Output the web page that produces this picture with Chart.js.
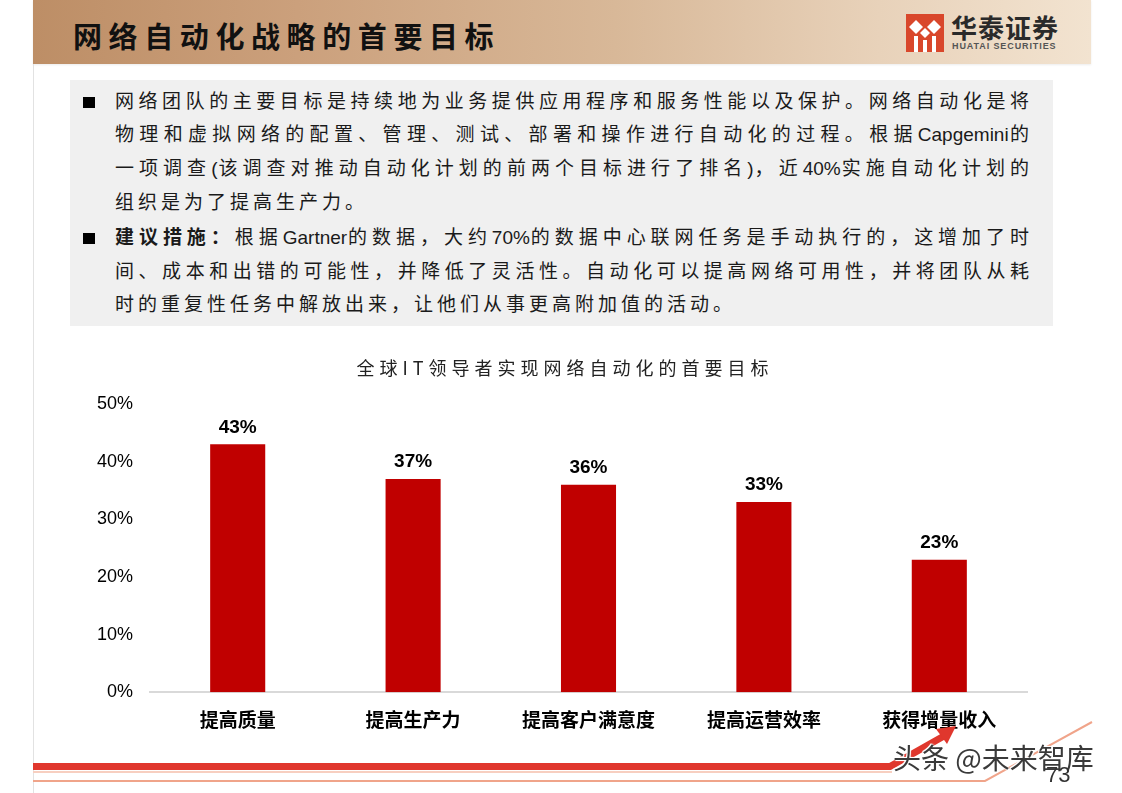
<!DOCTYPE html>
<html>
<head>
<meta charset="utf-8">
<script src="https://cdn.jsdelivr.net/npm/chart.js@4/dist/chart.umd.min.js"></script>
<style>
  html,body{margin:0;padding:0;background:#fff;}
  body{width:1122px;height:793px;position:relative;overflow:hidden;font-family:"Liberation Sans","Noto Sans CJK SC",sans-serif;}
  #header{position:absolute;left:33px;top:0;width:1058px;height:64px;
    background:linear-gradient(90deg,#bd8e66 0%,#cba07c 25%,#d8b898 55%,#e8d2ba 80%,#f2e3d0 100%);
    box-shadow:0 1px 2px rgba(0,0,0,0.08);}
  #htitle{position:absolute;left:73px;top:15px;font-family:"Noto Sans CJK SC",sans-serif;font-weight:700;font-size:29px;line-height:40px;letter-spacing:6.6px;color:#111;white-space:nowrap;}
  #vline{position:absolute;left:33px;top:64px;width:1px;height:729px;background:#e2e2e2;}
  #logo{position:absolute;left:906px;top:14px;}
  #lname{position:absolute;left:951px;top:11px;font-family:"Noto Sans CJK SC",sans-serif;font-weight:700;font-size:26px;line-height:32px;color:#2a2a2a;letter-spacing:1px;white-space:nowrap;}
  #lsub{position:absolute;left:952px;top:41px;font-family:"Liberation Sans",sans-serif;font-weight:700;font-size:9px;line-height:10px;color:#555;letter-spacing:0.9px;white-space:nowrap;}
  #box{position:absolute;left:70px;top:80px;width:983px;height:246px;background:#f0f0f0;}
  .bul{position:absolute;left:83px;width:12px;height:11px;background:#000;}
  .ln{position:absolute;left:115px;width:918px;height:34px;line-height:34px;font-size:19px;letter-spacing:4px;color:#1a1a1a;white-space:nowrap;}
  .ln span{letter-spacing:0;}
  .full{text-align:justify;text-align-last:justify;}
  #c{position:absolute;left:80px;top:340px;}
  #footer{position:absolute;left:0;top:700px;}
  #wm{position:absolute;left:893px;top:738px;font-family:"Noto Sans CJK SC",sans-serif;font-size:28px;line-height:38px;color:#3a3a3a;white-space:nowrap;
      text-shadow:0 0 2px #fff,0 0 2px #fff,1px 1px 0 #fff,-1px -1px 0 #fff;}
  #pg{position:absolute;left:1046px;top:762px;font-family:"Liberation Sans",sans-serif;font-size:22px;line-height:26px;color:#333;}
</style>
</head>
<body>
<div id="header"></div>
<div id="htitle">网络自动化战略的首要目标</div>
<svg id="logo" width="38" height="38" viewBox="0 0 38 38">
  <rect x="0" y="0" width="38" height="38" fill="#d9472b"/>
  <polygon points="10,6 17,13 10,20 3,13" fill="#fff"/>
  <polygon points="28,6 35,13 28,20 21,13" fill="#fff"/>
  <polygon points="19,14 24,19 19,24 14,19" fill="#fff"/>
  <rect x="8" y="22" width="4" height="16" fill="#fff"/>
  <rect x="26" y="22" width="4" height="16" fill="#fff"/>
  <rect x="17" y="26" width="4" height="12" fill="#fff"/>
</svg>
<div id="lname">华泰证券</div>
<div id="lsub">HUATAI SECURITIES</div>
<div id="vline"></div>

<div id="box"></div>
<div class="bul" style="top:97px"></div>
<div class="ln full" style="top:85px">网络团队的主要目标是持续地为业务提供应用程序和服务性能以及保护。网络自动化是将</div>
<div class="ln full" style="top:118px">物理和虚拟网络的配置、管理、测试、部署和操作进行自动化的过程。根据<span>Capgemini</span>的</div>
<div class="ln full" style="top:152px">一项调查<span>(</span>该调查对推动自动化计划的前两个目标进行了排名<span>)</span>，近<span>40%</span>实施自动化计划的</div>
<div class="ln" style="top:186px">组织是为了提高生产力。</div>
<div class="bul" style="top:233px"></div>
<div class="ln full" style="top:221px"><b>建议措施：</b>根据<span>Gartner</span>的数据，大约<span>70%</span>的数据中心联网任务是手动执行的，这增加了时</div>
<div class="ln full" style="top:255px">间、成本和出错的可能性，并降低了灵活性。自动化可以提高网络可用性，并将团队从耗</div>
<div class="ln" style="top:288px">时的重复性任务中解放出来，让他们从事更高附加值的活动。</div>

<canvas id="c" width="960" height="416"></canvas>

<svg id="footer" width="1122" height="93" viewBox="0 700 1122 93">
  <line x1="33" y1="772" x2="892" y2="772" stroke="#f7cfc0" stroke-width="2"/>
  <polyline points="33,766.5 890,766.5 944,736" fill="none" stroke="#e0372d" stroke-width="7"/>
  <polygon points="956,726 936,729 947,744" fill="#e0372d"/>
  <polyline points="33,781 985,781 1092,722" fill="none" stroke="#f0a48a" stroke-width="2"/>
</svg>
<div id="wm">头条 @未来智库</div>
<div id="pg">73</div>

<script>
const categories = ['提高质量', '提高生产力', '提高客户满意度', '提高运营效率', '获得增量收入'];
const values = [43, 37, 36, 33, 23];
const yTicks = [0, 10, 20, 30, 40, 50];
const chartTitle = '全球IT领导者实现网络自动化的首要目标';

const extras = {
  id: 'extras',
  afterDraw(chart) {
    const ctx = chart.ctx;
    ctx.save();
    ctx.fillStyle = '#222';
    ctx.font = '400 18px "Noto Sans CJK SC", "Liberation Sans", sans-serif';
    ctx.textAlign = 'center';
    ctx.textBaseline = 'middle';
    try { ctx.letterSpacing = '5px'; } catch (e) {}
    ctx.fillText(chartTitle, chart.width / 2 + 5, 28);
    try { ctx.letterSpacing = '0px'; } catch (e) {}
    const meta = chart.getDatasetMeta(0);
    ctx.fillStyle = '#000';
    ctx.font = 'bold 19px "Liberation Sans", Arial, sans-serif';
    meta.data.forEach((bar, i) => {
      ctx.fillText(values[i] + '%', bar.x, bar.y - 17);
    });
    ctx.restore();
  }
};

new Chart(document.getElementById('c'), {
  type: 'bar',
  data: {
    labels: categories,
    datasets: [{
      data: values,
      backgroundColor: '#c00000',
      borderWidth: 0,
      barPercentage: 0.314,
      categoryPercentage: 1.0
    }]
  },
  options: {
    responsive: false,
    animation: false,
    devicePixelRatio: 1,
    layout: { padding: { top: 64, right: 13, bottom: 9, left: 0 } },
    plugins: { legend: { display: false }, title: { display: false }, tooltip: { enabled: false } },
    scales: {
      x: {
        grid: { display: false, drawTicks: false },
        border: { display: true, color: '#d9d9d9', width: 2 },
        ticks: { padding: 16, color: '#000', font: { family: '"Noto Sans CJK SC", sans-serif', size: 19, weight: 'bold' } }
      },
      y: {
        min: 0, max: 50,
        afterBuildTicks(scale) { scale.ticks = yTicks.map(v => ({ value: v })); },
        afterFit(scale) { scale.width = 70; },
        grid: { display: false, drawTicks: false },
        border: { display: false },
        ticks: { padding: 17, color: '#000', callback: v => v + '%', font: { family: '"Liberation Sans", Arial, sans-serif', size: 18 } }
      }
    }
  },
  plugins: [extras]
});
</script>
</body>
</html>
